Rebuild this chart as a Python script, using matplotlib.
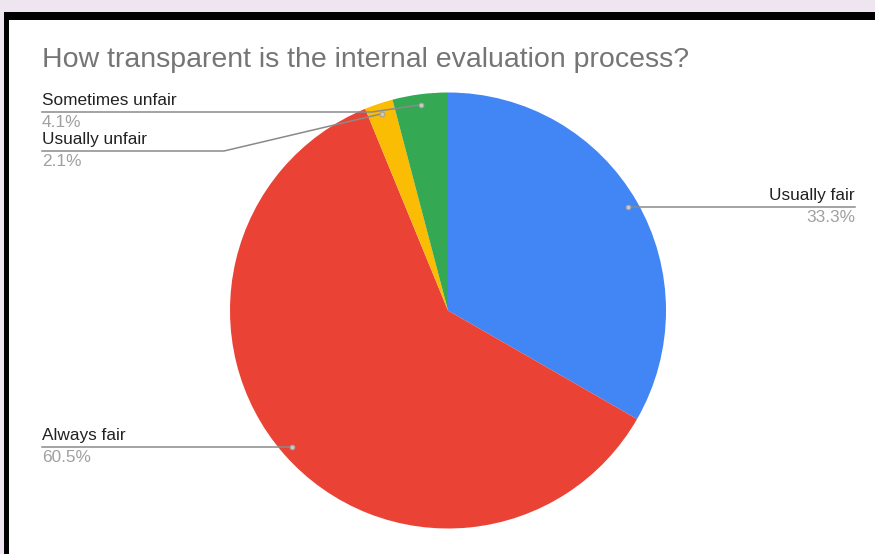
"""Pie chart: how transparent is the internal evaluation process."""

import matplotlib

matplotlib.use("Agg")
import matplotlib.pyplot as plt  # noqa: E402
import numpy as np  # noqa: E402
from matplotlib.patches import Rectangle  # noqa: E402

TITLE = "How transparent is the internal evaluation process?"
CATEGORIES = ["Usually fair", "Always fair", "Usually unfair", "Sometimes unfair"]
SHARES = [33.3, 60.5, 2.1, 4.1]
COLORS = ["#4285f4", "#ea4335", "#fbbc04", "#34a853"]

W, H = 875, 554
FONT = "Liberation Sans"


def py(y):
    # image pixel row -> plot y (y up)
    return H - y


figure = plt.figure(figsize=(W / 100, H / 100), dpi=100, facecolor="#efe5f0")
axis = figure.add_axes([0, 0, 1, 1])
axis.set_xlim(0, W)
axis.set_ylim(0, H)
axis.axis("off")

# frame around the screenshot
axis.add_patch(Rectangle((4, 0), W - 4, py(12), facecolor="black", zorder=0))
axis.add_patch(Rectangle((9, 0), W - 9, py(20), facecolor="white", zorder=0))

cx, cy, radius = 448, py(310.5), 218
wedges, _ = axis.pie(
    SHARES,
    colors=COLORS,
    startangle=90,
    counterclock=False,
    center=(cx, cy),
    radius=radius,
    wedgeprops={"linewidth": 0},
)
axis.set_xlim(0, W)
axis.set_ylim(0, H)
axis.set_aspect("equal")

axis.text(42, py(67), TITLE, fontsize=20.5, color="#757575", family=FONT,
          ha="left", va="baseline")

# dot for each slice, at the middle angle
dots = []
for wedge in wedges:
    mid = np.deg2rad((wedge.theta1 + wedge.theta2) / 2)
    dots.append((cx + 0.952 * radius * np.cos(mid), cy + 0.952 * radius * np.sin(mid)))

line_color = "#8a8a8a"
label_color = "#222222"
pct_color = "#a0a0a0"


def label(x_text, y_line, name, share, ha):
    axis.text(x_text, y_line + 4, name, fontsize=12.4, color=label_color,
              family=FONT, ha=ha, va="bottom")
    axis.text(x_text, y_line - 3, f"{share}%", fontsize=12.4, color=pct_color,
              family=FONT, ha=ha, va="top")


# Usually fair: right side
dx, dy = dots[0]
axis.plot([dx, 855], [dy, dy], color=line_color, linewidth=1.1, zorder=3)
label(855, dy, CATEGORIES[0], SHARES[0], "right")

# Always fair: left side
dx, dy = dots[1]
axis.plot([42, dx], [dy, dy], color=line_color, linewidth=1.1, zorder=3)
label(42, dy, CATEGORIES[1], SHARES[1], "left")

# Sometimes unfair: elbow line
dx, dy = dots[3]
axis.plot([42, 372, dx], [py(112), py(112), dy], color=line_color,
          linewidth=1.1, zorder=3)
label(42, py(112), CATEGORIES[3], SHARES[3], "left")

# Usually unfair: elbow line
dx, dy = dots[2]
axis.plot([42, 224, dx], [py(151), py(151), dy], color=line_color,
          linewidth=1.1, zorder=3)
label(42, py(151), CATEGORIES[2], SHARES[2], "left")

for dx, dy in dots:
    axis.plot(dx, dy, "o", markersize=3.5, markerfacecolor="#c8c8c8",
              markeredgecolor="#9a9a9a", markeredgewidth=0.6, zorder=4)

figure.savefig("out.png", dpi=100, facecolor=figure.get_facecolor())
plt.close(figure)
